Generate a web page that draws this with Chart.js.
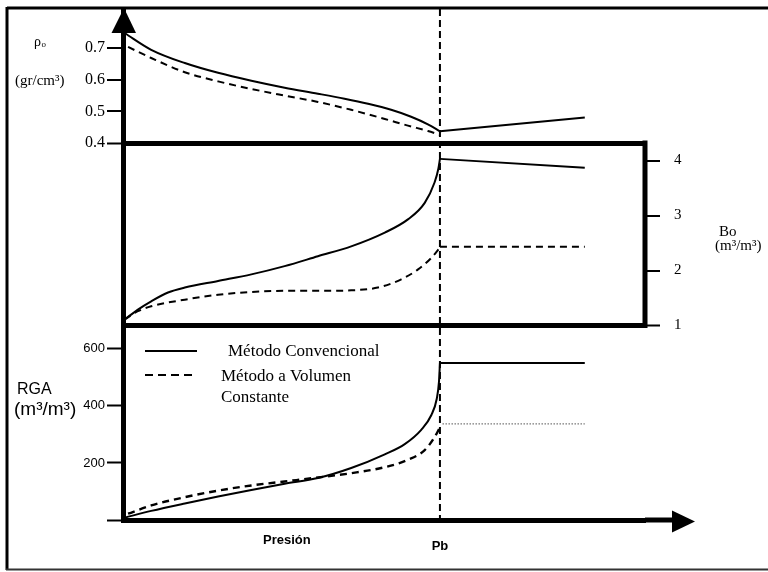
<!DOCTYPE html>
<html><head><meta charset="utf-8">
<script src="https://cdn.jsdelivr.net/npm/chart.js@4.4.1/dist/chart.umd.min.js"></script>
<style>html,body{margin:0;padding:0;background:#fff;}canvas{display:block;}</style>
</head><body>
<canvas id="c" width="768" height="572"></canvas>
<script>
// ---- Pressure axis (arbitrary units, Pb = 100) ----
const PB = 100;
const P_MAX = 164.7;

// ---- Oil density (gr/cm3) ----
const rhoConvP        = [0.5, 8.9, 19.5, 30.0, 40.5, 51.0, 61.5, 69.9, 77.3, 84.6, 90.9, 96.2, 100];
const rhoConvVal      = [0.748, 0.695, 0.653, 0.622, 0.597, 0.575, 0.556, 0.540, 0.524, 0.505, 0.483, 0.459, 0.437];
const rhoConvAfterP   = [100, 145.7];
const rhoConvAfterVal = [0.437, 0.481];
const rhoVolP         = [1.6, 8.9, 19.5, 30.0, 40.5, 51.0, 61.5, 72.0, 82.6, 89.9, 96.2, 100];
const rhoVolVal       = [0.704, 0.669, 0.624, 0.595, 0.571, 0.550, 0.530, 0.505, 0.476, 0.455, 0.438, 0.426];

// ---- Bo (m3/m3) ----
const boConvP        = [0.5, 4.7, 8.9, 14.2, 19.5, 30.0, 40.5, 51.0, 61.5, 72.0, 82.6, 89.9, 95.2, 98.3, 99.5, 100];
const boConvVal      = [1.11, 1.29, 1.44, 1.60, 1.69, 1.81, 1.93, 2.08, 2.26, 2.44, 2.69, 2.93, 3.23, 3.60, 3.85, 4.03];
const boConvAfterP   = [100, 145.7];
const boConvAfterVal = [4.03, 3.87];
const boVolP         = [0.5, 4.7, 8.9, 19.5, 30.0, 40.5, 51.0, 61.5, 72.0, 80.4, 87.8, 93.1, 97.3, 100];
const boVolVal       = [1.11, 1.26, 1.35, 1.47, 1.56, 1.61, 1.63, 1.63, 1.64, 1.69, 1.84, 2.02, 2.23, 2.42];
const boVolAfterP    = [100, 145.7];
const boVolAfterVal  = [2.43, 2.43];

// ---- RGA (m3/m3) ----
const rgaConvP        = [0.5, 8.9, 19.5, 30.0, 40.5, 51.0, 61.5, 72.0, 82.6, 88.9, 94.1, 97.3, 99.0, 99.7, 100];
const rgaConvVal      = [8, 32, 58, 82, 105, 127, 147, 182, 230, 266, 316, 368, 425, 485, 550];
const rgaConvAfterP   = [100, 145.7];
const rgaConvAfterVal = [550, 550];
const rgaVolP         = [1.6, 8.9, 19.5, 30.0, 40.5, 51.0, 61.5, 72.0, 82.6, 89.9, 95.2, 98.3, 100];
const rgaVolVal       = [22, 51, 80, 103, 121, 135, 149, 164, 185, 211, 245, 290, 325];
const rgaVolAfterP    = [100.8, 145.7];
const rgaVolAfterVal  = [337, 337];

// ---- Ticks and labels ----
const rhoTicks = [0.4, 0.5, 0.6, 0.7];
const rhoTickLabels = ['0.4', '0.5', '0.6', '0.7'];
const boTicks = [1, 2, 3, 4];
const boTickLabels = ['1', '2', '3', '4'];
const rgaTicks = [0, 200, 400, 600];
const rgaTickLabels = ['', '200', '400', '600'];
const xTickLabel = 'Pb';
const xTitle = 'Presión';
const seriesNames = ['Método Convencional', 'Método a Volumen Constante'];
const legendLines = [['Método Convencional'], ['Método a Volumen', 'Constante']];

const pts = (xs, ys) => xs.map((x, i) => ({x, y: ys[i]}));

const SOLID = {borderColor: '#000', borderWidth: 2, borderDash: []};
const DASH = {borderColor: '#000', borderWidth: 2, borderDash: [7, 5]};
function ds(label, data, axis, style, extra) {
  return Object.assign({label, data: data, yAxisID: axis, xAxisID: 'x', pointRadius: 0,
    fill: false, cubicInterpolationMode: 'monotone'}, style, extra || {});
}

const datasets = [
  ds(seriesNames[0], pts(rhoConvP, rhoConvVal), 'yRho', SOLID),
  ds(seriesNames[0], pts(rhoConvAfterP, rhoConvAfterVal), 'yRho', SOLID),
  ds(seriesNames[1], pts(rhoVolP, rhoVolVal), 'yRho', DASH),
  ds(seriesNames[0], pts(boConvP, boConvVal), 'yBo', SOLID),
  ds(seriesNames[0], pts(boConvAfterP, boConvAfterVal), 'yBo', SOLID),
  ds(seriesNames[1], pts(boVolP, boVolVal), 'yBo', DASH),
  ds(seriesNames[1], pts(boVolAfterP, boVolAfterVal), 'yBo', DASH),
  ds(seriesNames[0], pts(rgaConvP, rgaConvVal), 'yRGA', SOLID),
  ds(seriesNames[0], pts(rgaConvAfterP, rgaConvAfterVal), 'yRGA', SOLID),
  ds(seriesNames[1], pts(rgaVolP, rgaVolVal), 'yRGA', DASH, {borderWidth: 2.4}),
  ds(seriesNames[1], pts(rgaVolAfterP, rgaVolAfterVal), 'yRGA', {borderColor: '#777', borderWidth: 1.3, borderDash: [1.5, 1.5]})
];

const SERIF = 'Liberation Serif';
const SANS = 'Liberation Sans';

const decor = {
  id: 'decor',
  beforeDatasetsDraw(chart) {
    const {ctx, chartArea: a, scales} = chart;
    const xp = scales.x.getPixelForValue(PB);
    ctx.save();
    ctx.strokeStyle = '#000'; ctx.lineWidth = 2; ctx.setLineDash([7, 4]);
    ctx.beginPath(); ctx.moveTo(xp, a.top); ctx.lineTo(xp, a.bottom); ctx.stroke();
    ctx.restore();
  },
  afterDraw(chart) {
    const {ctx, chartArea: a, scales} = chart;
    ctx.save();
    ctx.strokeStyle = '#000'; ctx.fillStyle = '#000';
    // outer frame
    ctx.lineWidth = 3;
    ctx.beginPath(); ctx.moveTo(7, 8); ctx.lineTo(768, 8); ctx.stroke();
    ctx.beginPath(); ctx.moveTo(7, 7); ctx.lineTo(7, 570); ctx.stroke();
    ctx.lineWidth = 2; ctx.strokeStyle = '#333';
    ctx.beginPath(); ctx.moveTo(6, 569.5); ctx.lineTo(768, 569.5); ctx.stroke();
    ctx.strokeStyle = '#000';
    // right side of Bo box
    const yTop = scales.yRho.getPixelForValue(0.4);
    const yBot = scales.yBo.getPixelForValue(1);
    ctx.lineWidth = 5;
    ctx.beginPath(); ctx.moveTo(a.right, yTop - 2.5); ctx.lineTo(a.right, yBot + 2.5); ctx.stroke();
    // x axis extension + arrow
    ctx.beginPath(); ctx.moveTo(a.right, a.bottom); ctx.lineTo(674, a.bottom); ctx.stroke();
    ctx.beginPath(); ctx.moveTo(695, a.bottom + 1.5); ctx.lineTo(672, a.bottom - 9.5); ctx.lineTo(672, a.bottom + 12.5); ctx.closePath(); ctx.fill();
    // y axis arrow
    ctx.beginPath(); ctx.moveTo(a.left + 1, 8); ctx.lineTo(a.left - 11.5, 33); ctx.lineTo(a.left + 13, 33); ctx.closePath(); ctx.fill();

    // axis titles
    ctx.textBaseline = 'middle'; ctx.textAlign = 'left';
    ctx.font = '14px "' + SERIF + '"'; ctx.fillText('ρ', 34, 42);
    ctx.font = '9px "' + SERIF + '"'; ctx.fillText('o', 41.5, 45);
    ctx.font = '15px "' + SERIF + '"'; ctx.fillText('(gr/cm³)', 15, 81);
    ctx.font = '16px "' + SANS + '"'; ctx.fillText('RGA', 17, 390);
    ctx.font = '19px "' + SANS + '"'; ctx.fillText('(m³/m³)', 14, 410);
    ctx.font = '15px "' + SERIF + '"'; ctx.fillText('Bo', 719, 232);
    ctx.font = '15px "' + SERIF + '"'; ctx.fillText('(m³/m³)', 715, 246);
    ctx.font = 'bold 13px "' + SANS + '"'; ctx.fillText(xTitle, 263, 540);

    // legend
    const solid = chart.data.datasets[0], dashed = chart.data.datasets[2];
    ctx.lineWidth = solid.borderWidth; ctx.setLineDash(solid.borderDash);
    ctx.beginPath(); ctx.moveTo(145, 351); ctx.lineTo(197, 351); ctx.stroke();
    ctx.lineWidth = dashed.borderWidth; ctx.setLineDash([8, 5]);
    ctx.beginPath(); ctx.moveTo(145, 375); ctx.lineTo(196, 375); ctx.stroke();
    ctx.setLineDash([]);
    ctx.font = '17px "' + SERIF + '"';
    ctx.fillText(legendLines[0][0], 228, 352);
    ctx.fillText(legendLines[1][0], 221, 377);
    ctx.fillText(legendLines[1][1], 221, 398);
    ctx.restore();
  }
};

const gridEdge = (val, w) => ctx => (ctx.tick && Math.abs(ctx.tick.value - val) < 1e-9 ? w : 0);
const fixSize = (prop, size) => s => {
  s[prop] = size;
  s.paddingTop = 0; s.paddingBottom = 0; s.paddingLeft = 0; s.paddingRight = 0;
};

new Chart(document.getElementById('c'), {
  type: 'line',
  data: {datasets},
  plugins: [decor],
  options: {
    responsive: false,
    animation: false,
    layout: {padding: {top: 9, left: 0, right: 0, bottom: 0}},
    plugins: {legend: {display: false}, tooltip: {enabled: false}},
    scales: {
      x: {
        type: 'linear', min: 0, max: P_MAX,
        afterBuildTicks: s => { s.ticks = [{value: PB}]; },
        ticks: {callback: () => xTickLabel, color: '#000', autoSkip: false, maxRotation: 0, padding: 19,
                font: {family: SANS, size: 13, weight: 'bold'}},
        grid: {display: false, drawTicks: false},
        border: {display: true, color: '#000', width: 5},
        afterFit: fixSize('height', 52)
      },
      yRGA: {
        type: 'linear', position: 'left', stack: 'left', stackWeight: 377, weight: 0,
        min: 0, max: 1321,
        afterBuildTicks: s => { s.ticks = rgaTicks.map(v => ({value: v})); },
        ticks: {callback: (v) => rgaTickLabels[rgaTicks.indexOf(v)], color: '#000', autoSkip: false, padding: 2,
                font: {family: SANS, size: 13}},
        grid: {drawOnChartArea: false, drawTicks: true, tickLength: 16, tickWidth: 2, tickColor: '#000', color: '#000'},
        border: {display: true, color: '#000', width: 5},
        afterFit: fixSize('width', 123)
      },
      yRho: {
        type: 'linear', position: 'left', stack: 'left', stackWeight: 134, weight: 1,
        min: 0.4, max: 0.824,
        afterBuildTicks: s => { s.ticks = rhoTicks.map(v => ({value: v})); },
        ticks: {callback: (v) => rhoTickLabels[rhoTicks.indexOf(v)], color: '#000', autoSkip: false, padding: 2,
                font: {family: SERIF, size: 16}},
        grid: {drawOnChartArea: true, drawTicks: true, tickLength: 16, tickWidth: 2, tickColor: '#000', color: '#000',
               lineWidth: gridEdge(0.4, 5)},
        border: {display: true, color: '#000', width: 5},
        afterFit: fixSize('width', 123)
      },
      yBo: {
        type: 'linear', position: 'right',
        min: -2.536, max: 6.755,
        afterBuildTicks: s => { s.ticks = boTicks.map(v => ({value: v})); },
        ticks: {callback: (v) => boTickLabels[boTicks.indexOf(v)], color: '#000', autoSkip: false, padding: 14,
                font: {family: SERIF, size: 15}},
        grid: {drawOnChartArea: true, drawTicks: true, tickLength: 15, tickWidth: 2, tickColor: '#000', color: '#000',
               lineWidth: gridEdge(1, 5)},
        border: {display: false},
        afterFit: fixSize('width', 123)
      }
    }
  }
});
</script>
</body></html>
